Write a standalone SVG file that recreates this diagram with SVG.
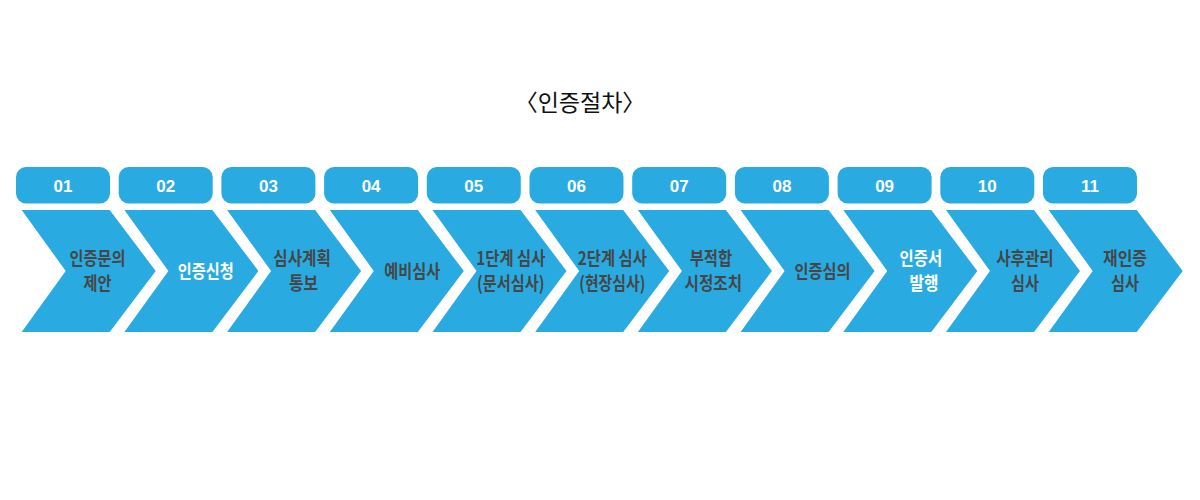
<svg xmlns="http://www.w3.org/2000/svg" xmlns:xlink="http://www.w3.org/1999/xlink" width="1200" height="500" viewBox="0 0 1200 500">
<style>
.pill{fill:#29abe2}
.chev{fill:#29abe2}
.num{font-family:"Liberation Sans",Arial,sans-serif;font-weight:700;font-size:17px;fill:#fff;text-anchor:middle}
.lbl{font-family:"Noto Sans CJK KR","Noto Sans",sans-serif;font-weight:700;font-size:18.5px;fill:#464646;text-anchor:middle}
.w{fill:#fff}
.title{font-family:"Noto Sans CJK KR","Noto Sans",sans-serif;font-weight:400;font-size:23px;fill:#111;text-anchor:middle}
</style>
<defs>
<rect id="pillshape" class="pill" x="-5.7" y="167" width="94" height="36.5" rx="10" ry="10"/>
<polygon id="chevshape" class="chev" points="0,210 88,210 134,271 88,332 0,332 44,271"/>
</defs>
<rect width="1200" height="500" fill="#fff"/>
<text id="title" class="title" x="580" y="110.5">〈인증절차〉</text>
<g id="connectors"></g>
<g id="step01" transform="translate(21.7,0)">
<use xlink:href="#pillshape" href="#pillshape"/><text class="num" x="41.3" y="192.3">01</text>
<use xlink:href="#chevshape" href="#chevshape"/>
<text class="lbl" x="75.8" y="265.3" textLength="56" lengthAdjust="spacingAndGlyphs">인증문의</text>
<text class="lbl" x="75.8" y="289.6" textLength="28" lengthAdjust="spacingAndGlyphs">제안</text>
</g>
<g id="step02" transform="translate(124.4,0)">
<use xlink:href="#pillshape" href="#pillshape"/><text class="num" x="41.3" y="192.3">02</text>
<use xlink:href="#chevshape" href="#chevshape"/>
<text class="lbl w" x="81.4" y="277.5" textLength="56" lengthAdjust="spacingAndGlyphs">인증신청</text>
</g>
<g id="step03" transform="translate(227.1,0)">
<use xlink:href="#pillshape" href="#pillshape"/><text class="num" x="41.3" y="192.3">03</text>
<use xlink:href="#chevshape" href="#chevshape"/>
<text class="lbl" x="75" y="265.3" textLength="57.5" lengthAdjust="spacingAndGlyphs">심사계획</text>
<text class="lbl" x="76.5" y="289.6" textLength="29" lengthAdjust="spacingAndGlyphs">통보</text>
</g>
<g id="step04" transform="translate(329.8,0)">
<use xlink:href="#pillshape" href="#pillshape"/><text class="num" x="41.3" y="192.3">04</text>
<use xlink:href="#chevshape" href="#chevshape"/>
<text class="lbl" x="82.5" y="277.5" textLength="56" lengthAdjust="spacingAndGlyphs">예비심사</text>
</g>
<g id="step05" transform="translate(432.5,0)">
<use xlink:href="#pillshape" href="#pillshape"/><text class="num" x="41.3" y="192.3">05</text>
<use xlink:href="#chevshape" href="#chevshape"/>
<text class="lbl" x="78.3" y="265.3" textLength="69" lengthAdjust="spacingAndGlyphs">1단계 심사</text>
<text class="lbl" x="78.3" y="289.6" textLength="67.5" lengthAdjust="spacingAndGlyphs">(문서심사)</text>
</g>
<g id="step06" transform="translate(535.2,0)">
<use xlink:href="#pillshape" href="#pillshape"/><text class="num" x="41.3" y="192.3">06</text>
<use xlink:href="#chevshape" href="#chevshape"/>
<text class="lbl" x="77.1" y="265.3" textLength="69" lengthAdjust="spacingAndGlyphs">2단계 심사</text>
<text class="lbl" x="77.1" y="289.6" textLength="66" lengthAdjust="spacingAndGlyphs">(현장심사)</text>
</g>
<g id="step07" transform="translate(637.9,0)">
<use xlink:href="#pillshape" href="#pillshape"/><text class="num" x="41.3" y="192.3">07</text>
<use xlink:href="#chevshape" href="#chevshape"/>
<text class="lbl" x="73" y="265.3" textLength="42.5" lengthAdjust="spacingAndGlyphs">부적합</text>
<text class="lbl" x="75.4" y="289.6" textLength="57.5" lengthAdjust="spacingAndGlyphs">시정조치</text>
</g>
<g id="step08" transform="translate(740.6,0)">
<use xlink:href="#pillshape" href="#pillshape"/><text class="num" x="41.3" y="192.3">08</text>
<use xlink:href="#chevshape" href="#chevshape"/>
<text class="lbl" x="81.9" y="277.5" textLength="56" lengthAdjust="spacingAndGlyphs">인증심의</text>
</g>
<g id="step09" transform="translate(843.3,0)">
<use xlink:href="#pillshape" href="#pillshape"/><text class="num" x="41.3" y="192.3">09</text>
<use xlink:href="#chevshape" href="#chevshape"/>
<text class="lbl w" x="77.5" y="265.3" textLength="42.5" lengthAdjust="spacingAndGlyphs">인증서</text>
<text class="lbl w" x="80.7" y="289.6" textLength="29" lengthAdjust="spacingAndGlyphs">발행</text>
</g>
<g id="step10" transform="translate(946,0)">
<use xlink:href="#pillshape" href="#pillshape"/><text class="num" x="41.3" y="192.3">10</text>
<use xlink:href="#chevshape" href="#chevshape"/>
<text class="lbl" x="79" y="265.3" textLength="57.5" lengthAdjust="spacingAndGlyphs">사후관리</text>
<text class="lbl" x="79" y="289.6" textLength="28" lengthAdjust="spacingAndGlyphs">심사</text>
</g>
<g id="step11" transform="translate(1048.7,0)">
<use xlink:href="#pillshape" href="#pillshape"/><text class="num" x="41.3" y="192.3">11</text>
<use xlink:href="#chevshape" href="#chevshape"/>
<text class="lbl" x="76.3" y="265.3" textLength="44" lengthAdjust="spacingAndGlyphs">재인증</text>
<text class="lbl" x="76.3" y="289.6" textLength="28" lengthAdjust="spacingAndGlyphs">심사</text>
</g>
</svg>
